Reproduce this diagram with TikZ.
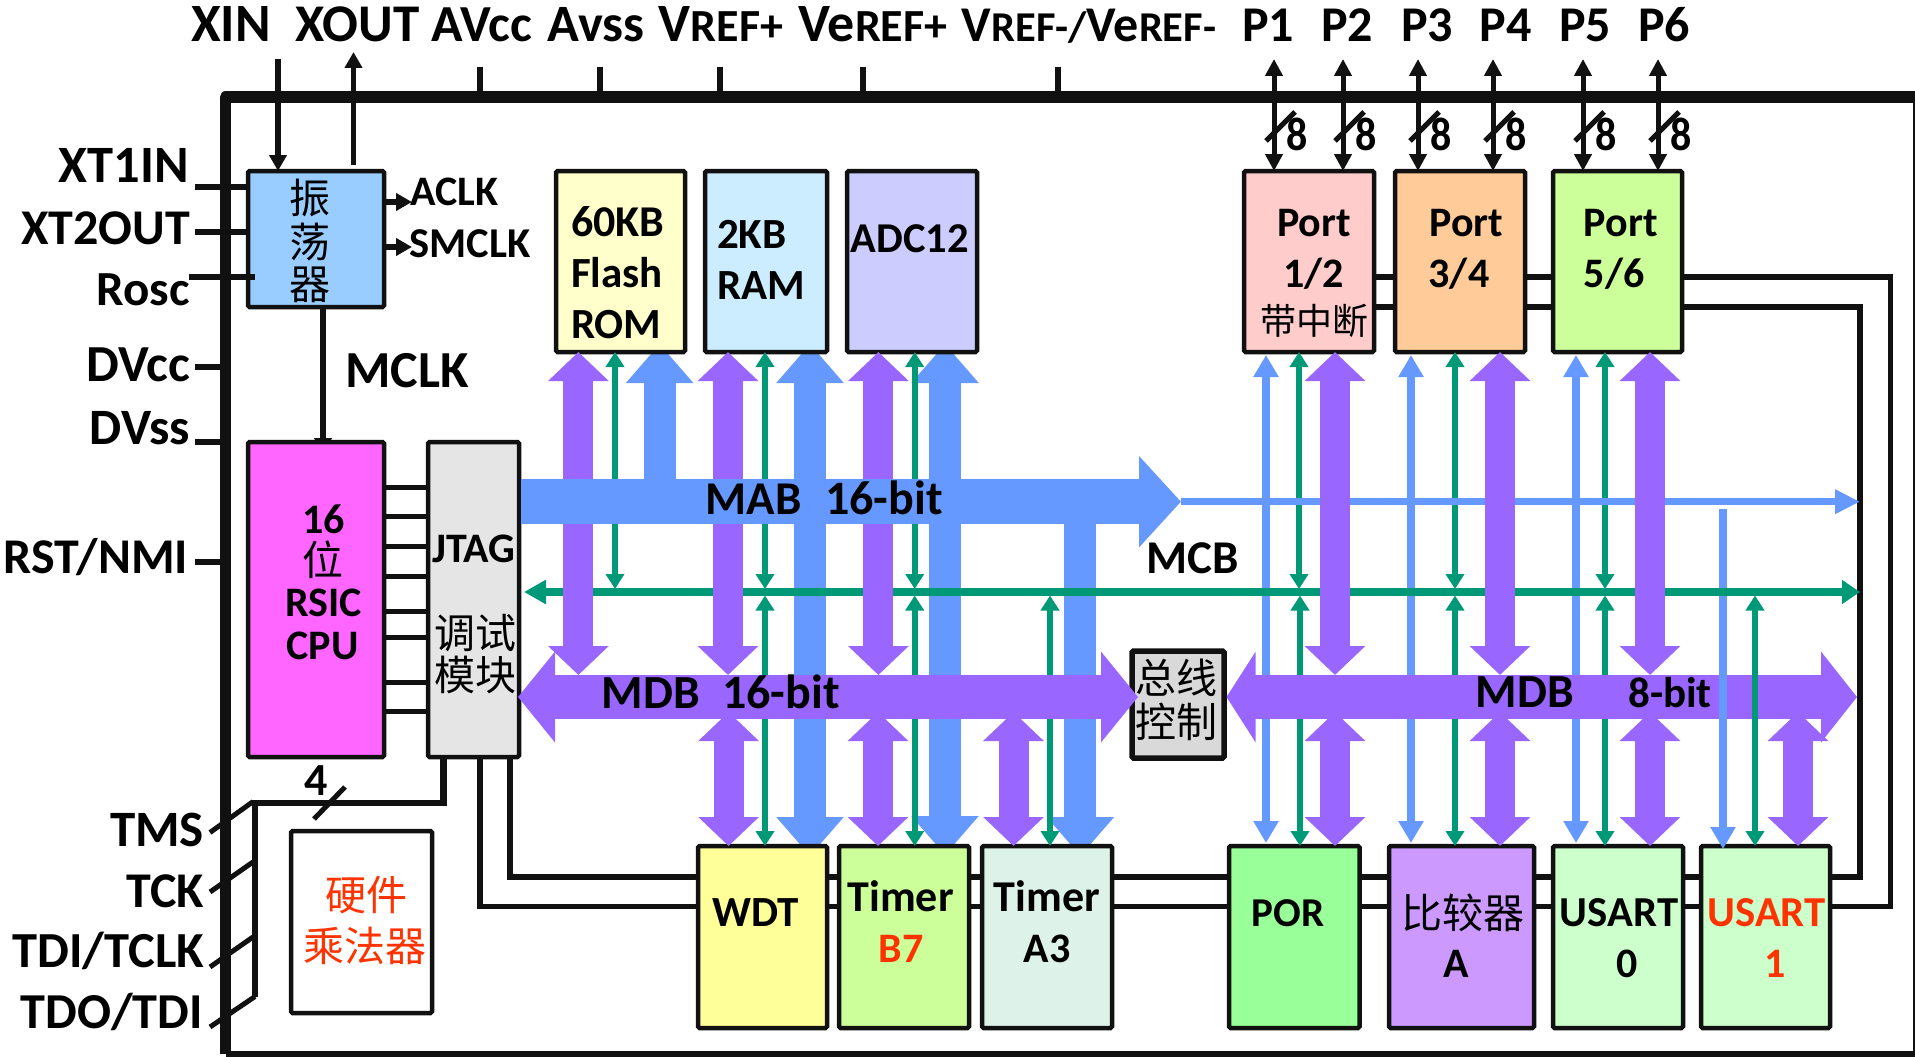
\documentclass[tikz,border=0pt]{standalone}
\usepackage{fontspec}
\setmainfont{Carlito}
\newfontfamily\cjk{Noto Sans CJK SC}
\usetikzlibrary{arrows.meta,fit}
\definecolor{cblue}{HTML}{6699FF}
\definecolor{cpurple}{HTML}{9966FF}
\definecolor{cgreen}{HTML}{009977}
\definecolor{cred}{HTML}{FF3300}
\definecolor{cink}{HTML}{111111}
\tikzset{
  bx/.style={draw=cink,line width=4.5pt,inner sep=0pt,outer sep=0pt,rounded corners=1.5pt},
  lb/.style={font=\fontsize{#1}{#1}\selectfont\bfseries,inner sep=0pt,outer sep=0pt,anchor=base,text=black},
  lbe/.style={lb=#1,anchor=base east},
  lbw/.style={lb=#1,anchor=base west},
  hz/.style={font=\cjk\fontsize{#1}{#1}\selectfont,inner sep=0pt,outer sep=0pt,anchor=center,text=black},
  wire/.style={draw=cink,line width=5.5pt},
  pin/.style={draw=cink,line width=6pt},
  slash/.style={draw=cink,line width=5pt},
  sig/.style={draw=cink,line width=5.5pt,arrows={-Triangle[length=16pt,width=17pt]}},
  portio/.style={draw=cink,line width=5pt,arrows={Triangle[length=17pt,width=17pt]-Triangle[length=17pt,width=17pt]}},
  fatblue/.style={draw=cblue,line width=32pt},
  fatblueup/.style={fatblue,arrows={Triangle[length=39pt,width=65pt]-}},
  fatbluedn/.style={fatblue,arrows={-Triangle[length=39pt,width=65pt]}},
  fatblueud/.style={fatblue,arrows={Triangle[length=39pt,width=65pt]-Triangle[length=39pt,width=65pt]}},
  thinblue/.style={draw=cblue,line width=7.5pt},
  thinblueud/.style={thinblue,arrows={Triangle[length=22pt,width=24pt]-Triangle[length=22pt,width=24pt]}},
  thinbluedn/.style={thinblue,arrows={-Triangle[length=22pt,width=24pt]}},
  thingreen/.style={draw=cgreen,line width=6pt},
  greenud/.style={thingreen,arrows={Triangle[length=15pt,width=18pt]-Triangle[length=15pt,width=18pt]}},
  greenbus/.style={draw=cgreen,line width=7.5pt,arrows={Triangle[length=22pt,width=23pt]-Triangle[length=18pt,width=23pt]}},
  purpleud/.style={draw=cpurple,line width=30pt,arrows={Triangle[length=29pt,width=59pt]-Triangle[length=29pt,width=59pt]}},
}
\begin{document}
\begin{tikzpicture}[x=1pt,y=-1pt]
\useasboundingbox (0,0) rectangle (1915,1057);
% named reference levels
\coordinate (mcbup) at (0,589);
\coordinate (mcbdn) at (0,595.5);
\coordinate (mcbL) at (524,592);
\coordinate (mcbR) at (1860,592);
\coordinate (mdbtop) at (0,675);
\coordinate (mdbbot) at (0,712);
\coordinate (mabmid) at (0,501.7);
\coordinate (mabL) at (521,501.7);
\coordinate (mabR) at (1181,501.7);
\coordinate (mabend) at (1860,501.7);
\coordinate (mdbA) at (518,697);
\coordinate (mdbB) at (1138,697);
\coordinate (mdbC) at (1226.5,697);
\coordinate (mdbD) at (1857,697);
\coordinate (topin) at (278,59);
\coordinate (topout) at (353.5,52);
\coordinate (mclkstart) at (323,307);
\coordinate (mclkend) at (323,454);
% chip outline
\draw[draw=cink,line width=11pt,line join=round] (225.5,1054) -- (225.5,97) -- (1916,97);
\draw[draw=cink,line width=7pt] (225.5,1054) -- (1916,1054);
\draw[draw=cink,line width=5pt] (1915,97) -- (1915,1054);
% fat address branches (under the boxes)
\draw[fatblueup] (659.6,344) -- (659.6,0 |- mabmid);
\draw[fatblueud] (810,344) -- (810,856);
\draw[fatblueud] (945,344) -- (945,855);
\draw[fatbluedn] (1080.4,0 |- mabmid) -- (1080.4,856);
% black wires behind the boxes
\coordinate (w1a) at (510,877);
\coordinate (w1b) at (1860,877);
\coordinate (w1c) at (1860,307);
\coordinate (w2a) at (480,906.5);
\coordinate (w2b) at (1890.5,906.5);
\coordinate (w2c) at (1890.5,277);
\coordinate (w2p) at (1340,277);
\coordinate (w1p) at (1340,307);
\coordinate (jt1) at (510,757);
\coordinate (jt2) at (480,757);
\coordinate (jt3) at (443.7,757);
\coordinate (jt3b) at (443.7,803);
\coordinate (jt3c) at (255,803);
\coordinate (jt3d) at (255,997);
\draw[wire,line join=miter] (jt1) -- (w1a) -- (w1b) -- (w1c) -- (w1p);
\draw[wire,line join=miter] (jt2) -- (w2a) -- (w2b) -- (w2c) -- (w2p);
\draw[wire,line width=6.5pt,line join=miter] (jt3) -- (jt3b) -- (jt3c) -- (jt3d);
\coordinate (s1a) at (314,819); \coordinate (s1b) at (345,787);
\draw[slash] (s1a) -- (s1b);
\coordinate (t1a) at (210,832.5); \coordinate (t1b) at (253,801.6);
\coordinate (t2a) at (210,892); \coordinate (t2b) at (253,862);
\coordinate (t3a) at (210,967); \coordinate (t3b) at (253,937);
\coordinate (t4a) at (210,1027); \coordinate (t4b) at (255,996.5);
\draw[slash] (t1a) -- (t1b); \draw[slash] (t2a) -- (t2b); \draw[slash] (t3a) -- (t3b); \draw[slash] (t4a) -- (t4b);
\draw[sig,line width=6pt] (mclkstart) -- (mclkend);
% boxes
\node[bx,fill={rgb,255:red,153;green,204;blue,255},fit={(248,171)(384,307)}] (osc) {};
\node[bx,fill={rgb,255:red,255;green,102;blue,255},fit={(248,442)(384,757)}] (cpu) {};
\node[bx,fill={rgb,255:red,229;green,229;blue,229},fit={(428,442)(519,757)}] (jtag) {};
\node[bx,fill={rgb,255:red,255;green,255;blue,204},fit={(556,171)(685,352)}] (flash) {};
\node[bx,fill={rgb,255:red,204;green,236;blue,255},fit={(705,171)(827,352)}] (ram) {};
\node[bx,fill={rgb,255:red,204;green,204;blue,255},fit={(847,171)(977,352)}] (adc) {};
\node[bx,fill={rgb,255:red,255;green,204;blue,204},fit={(1244,171)(1374,352)}] (pa) {};
\node[bx,fill={rgb,255:red,255;green,204;blue,153},fit={(1395,171)(1525,352)}] (pb) {};
\node[bx,fill={rgb,255:red,204;green,255;blue,153},fit={(1553,171)(1682,352)}] (pc) {};
\node[bx,fill={rgb,255:red,255;green,255;blue,153},fit={(698,846)(827,1028)}] (wdt) {};
\node[bx,fill={rgb,255:red,204;green,255;blue,153},fit={(839,846)(969,1028)}] (tb) {};
\node[bx,fill={rgb,255:red,221;green,242;blue,233},fit={(982,846)(1112,1028)}] (ta) {};
\node[bx,fill={rgb,255:red,153;green,255;blue,153},fit={(1229,846)(1359.5,1028)}] (por) {};
\node[bx,fill={rgb,255:red,204;green,153;blue,255},fit={(1389,846)(1534,1028)}] (cmp) {};
\node[bx,fill={rgb,255:red,204;green,255;blue,204},fit={(1553,846)(1683,1028)}] (ua) {};
\node[bx,fill={rgb,255:red,204;green,255;blue,204},fit={(1701,846)(1830,1028)}] (ub) {};
\node[bx,fill=white,fit={(291,831)(432,1013)}] (mul) {};
\node[bx,line width=5.5pt,fill={rgb,255:red,217;green,217;blue,217},fit={(1132,651)(1224,758)}] (bc) {};
% CPU to JTAG links
\foreach \y in {487,516.6,546.8,576.4,611.7,637,682,711.5}
  \draw[wire,line width=5pt] (cpu.east |- 0,\y) -- (jtag.west |- 0,\y);
% clock
\draw[sig] (278,0 |- topin) -- (278,0 |- osc.north);
\draw[sig] (353.5,165) -- (topout);
\coordinate (aclk) at (412,202); \coordinate (smclk) at (412,247);
\draw[sig] (osc.east |- aclk) -- (aclk);
\draw[sig] (osc.east |- smclk) -- (smclk);
% left pins
\coordinate (p1) at (195,186.6); \coordinate (p2) at (195,231.6); \coordinate (p3) at (188.6,277); \coordinate (p3e) at (255,277);
\draw[pin] (p1) -- (osc.west |- p1);
\draw[pin] (p2) -- (osc.west |- p2);
\draw[pin] (p3) -- (p3e);
\coordinate (p4) at (195,367); \coordinate (p4e) at (225,367);
\coordinate (p5) at (195,442); \coordinate (p5e) at (225,442);
\coordinate (p6) at (195,562); \coordinate (p6e) at (225,562);
\draw[pin] (p4) -- (p4e); \draw[pin] (p5) -- (p5e); \draw[pin] (p6) -- (p6e);
% top ticks
\foreach \x in {480,600,720,863,1058} \draw[pin] (\x,67) -- (\x,97);
% port lines
\foreach \x/\n in {1274/pa,1343/pa,1418/pb,1493/pb,1583/pc,1658/pc}{
  \draw[portio] (\x,59) -- (\x,0 |- \n.north);
  \draw[slash] (\x-8,141) -- (\x+21,112);
}
% thin address lines
\foreach \x/\t/\b in {1266/pa/por,1411/pb/cmp,1576/pc/ua}
  \draw[thinblueud,shorten <=3pt,shorten >=3pt] (\x,0 |- \t.south) -- (\x,0 |- \b.north);
\draw[thinbluedn] (1723,509) -- (1723,849);
% control bus
\foreach \x/\n in {615/flash,765/ram,914.7/adc,1299/pa,1455/pb,1605/pc}
  \draw[greenud] (\x,0 |- \n.south) -- (\x,0 |- mcbup);
\foreach \x/\n in {765/wdt,914.7/tb,1050/ta,1300/por,1455/cmp,1605/ua,1755/ub}
  \draw[greenud] (\x,0 |- mcbdn) -- (\x,0 |- \n.north);
\draw[greenbus] (mcbL) -- (mcbR);
% thin MAB tail
\draw[thinblue,arrows={-Triangle[length=25pt,width=23pt]}] (mabR) -- (mabend);
% data branches
\foreach \x/\n in {578.4/flash,728/ram,878.4/adc,1335/pa,1500/pb,1650/pc}
  \draw[purpleud] (\x,0 |- \n.south) -- (\x,0 |- mdbtop);
\foreach \x/\n in {728.6/wdt,878/tb,1013.5/ta,1335/por,1500/cmp,1650/ua,1798/ub}
  \draw[purpleud] (\x,0 |- mdbbot) -- (\x,0 |- \n.north);
% main buses
\draw[draw=cblue,line width=45pt,arrows={-Triangle[length=42pt,width=89pt]}] (mabL) -- (mabR);
\draw[draw=cpurple,line width=44.5pt,arrows={Triangle[length=37pt,width=89pt]-Triangle[length=37pt,width=89pt]}] (mdbA) -- (mdbB);
\draw[draw=cpurple,line width=44.5pt,arrows={Triangle[length=29pt,width=89pt]-Triangle[length=36pt,width=89pt]}] (mdbC) -- (mdbD);
\draw[thinblue] (1723,672) -- (1723,722);
\draw[thingreen] (1755,672) -- (1755,722);
% top labels
\node[lb=54] (lxin) at (231,42) {XIN};
\node[lb=53] (lxout) at (357.6,42) {XOUT};
\node[lb=52] (lav) at (482,42) {AVcc};
\node[lb=52.5] (las) at (596,42) {Avss};
\node[lb=54] (lvr) at (721,42) {V\fontsize{46}{46}\selectfont REF+};
\node[lb=54] (lve) at (873,42) {Ve\fontsize{46}{46}\selectfont REF+};
\node[lb=50] (lvm) at (1089,42) {V\fontsize{42.5}{42.5}\selectfont REF-/\fontsize{50}{50}\selectfont Ve\fontsize{42.5}{42.5}\selectfont REF-};
\foreach \n/\x/\t in {q1/1268/P1,q2/1347/P2,q3/1427/P3,q4/1505.5/P4,q5/1585/P5,q6/1664/P6}
  \node[lb=50] (\n) at (\x,42) {\t};
\foreach \n/\x in {e1/1274,e2/1343,e3/1418,e4/1493,e5/1583,e6/1658}
  \node[lb=42,yscale=1.12] (\n) at (\x+23,150.5) {8};
% left labels
\node[lbe=52.5] (lx1) at (188.6,182.5) {XT1IN};
\node[lbe=50] (lx2) at (190,244) {XT2OUT};
\node[lbe=49] (lro) at (190,305) {Rosc};
\node[lbe=52] (ldv) at (190,381) {DVcc};
\node[lbe=51] (lds) at (190,444.5) {DVss};
\node[lbe=50] (lrs) at (188,573.7) {RST/NMI};
\node[lbe=51] (ltm) at (204,846) {TMS};
\node[lbe=50] (ltc) at (204,907) {TCK};
\node[lbe=50.5] (ltd) at (204,967.6) {TDI/TCLK};
\node[lbe=50.3] (lto) at (203,1028.5) {TDO/TDI};
\node[lb=52] (lmc) at (407,387) {MCLK};
\node[lb=42] (lac) at (454.5,205) {ACLK};
\node[lb=42.5] (lsm) at (470,257.6) {SMCLK};
\node[lb=46] (lfour) at (316,795.5) {4};
% box labels
\node[hz=41] (o1) at (310,198.4) {振};
\node[hz=41] (o2) at (310,241.7) {荡};
\node[hz=41] (o3) at (310,285) {器};
\node[lb=42] (c1) at (323.7,533) {16};
\node[hz=41] (c2) at (322.6,560) {位};
\node[lb=42] (c3) at (323.7,616.7) {RSIC};
\node[lb=42] (c4) at (322.5,659.4) {CPU};
\node[lb=42] (j1) at (474,562) {JTAG};
\node[hz=41] (j2) at (475.5,632.5) {调试};
\node[hz=41] (j3) at (475.5,675) {模块};
\node[lbw=44] (f1) at (571,236.6) {60KB};
\node[lbw=43] (f2) at (571,287) {Flash};
\node[lbw=43] (f3) at (571,338) {ROM};
\node[lbw=43] (r1) at (717,248.5) {2KB};
\node[lbw=43] (r2) at (717,299) {RAM};
\node[lb=42.5] (a1) at (910,252) {ADC12};
\node[lb=42] (pa1) at (1314,236.6) {Port};
\node[lb=42] (pa2) at (1313.6,287) {1/2};
\node[hz=36] (pa3) at (1314,321) {带中断};
\node[lb=42] (pb1) at (1466.5,236.6) {Port};
\node[lb=42] (pb2) at (1459,287) {3/4};
\node[lb=42] (pc1) at (1620.7,236.6) {Port};
\node[lb=42] (pc2) at (1614,287) {5/6};
\node[lb=47] (m1) at (753.5,514) {MAB};
\node[lb=48] (m2) at (884,514) {16-bit};
\node[lb=47] (m3) at (1192.7,573) {MCB};
\node[lb=47.5] (m4) at (651,708) {MDB};
\node[lb=48] (m5) at (781,708) {16-bit};
\node[lb=47.5] (m6) at (1524.6,707.5) {MDB};
\node[lb=43] (m7) at (1670,707.5) {8-bit};
\node[hz=41] (b1) at (1176,678) {总线};
\node[hz=41] (b2) at (1176,721.6) {控制};
\node[lb=43] (w1) at (755.5,926) {WDT};
\node[lb=44] (t1) at (900.6,911.5) {Timer};
\node[lb=42,text=cred] (t2) at (901,962) {B7};
\node[lb=44] (t3) at (1047,911.5) {Timer};
\node[lb=42] (t4) at (1047,962) {A3};
\node[lb=41] (po) at (1288,926) {POR};
\node[hz=41] (k1) at (1463,912.5) {比较器};
\node[lb=42] (k2) at (1456.6,977) {A};
\node[lb=42.7] (u1) at (1619,926.6) {USART};
\node[lb=42] (u2) at (1627,977) {0};
\node[lb=42.7,text=cred] (u3) at (1766.6,926.6) {USART};
\node[lb=42,text=cred] (u4) at (1775,977) {1};
\node[hz=41,text=cred] (h1) at (366,894.7) {硬件};
\node[hz=41,text=cred] (h2) at (365,946) {乘法器};
\end{tikzpicture}
\end{document}
